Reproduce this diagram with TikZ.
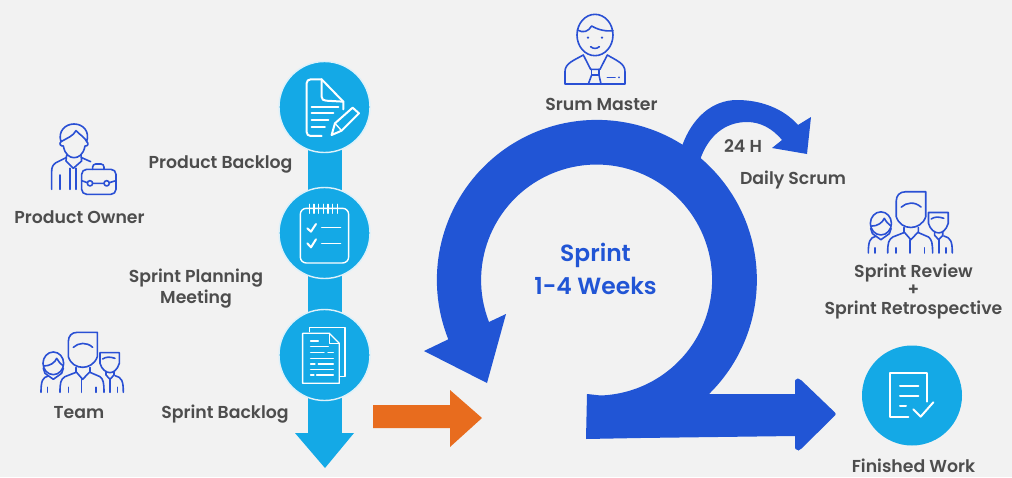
\documentclass[tikz,border=0pt]{standalone}
\usepackage{fontspec}
\setmainfont{Poppins}[UprightFont=* SemiBold,BoldFont=* SemiBold]
\usetikzlibrary{calc}
\definecolor{bgc}{HTML}{F2F2F2}
\definecolor{sblue}{HTML}{2155D5}
\definecolor{cyanb}{HTML}{14A9E6}
\definecolor{ringc}{HTML}{DDF1FA}
\definecolor{orangeb}{HTML}{E86C1E}
\definecolor{txt}{HTML}{4D4D4D}
\definecolor{iconb}{HTML}{2A50D4}
\tikzset{
  lbl/.style={text=txt,font=\fontsize{17.3}{21}\selectfont,inner sep=0pt,anchor=base,align=center},
  lblc/.style={text=txt,font=\fontsize{17.3}{21}\selectfont,inner sep=0pt,anchor=center,align=center},
  sprinttxt/.style={text=sblue,font=\fontsize{23.4}{33}\selectfont,inner sep=0pt,anchor=center,align=center},
  disc/.style={circle,fill=cyanb,draw=ringc,line width=1.4pt,inner sep=0pt,minimum size=#1},
  shaft/.style={draw=cyanb,line width=34pt},
  ico/.style={draw=iconb,line width=1.6pt,line cap=round,line join=round,fill=none},
  wht/.style={draw=white,line width=2pt,line cap=round,line join=round,fill=none},
  whtt/.style={draw=white,line width=1.3pt,line cap=round,line join=round,fill=none},
  teamicon/.pic={
    \draw[ico] (205,-290) -- (205,-245) .. controls (205,-228) and (215,-217) .. (232,-217) -- (292,-217) -- (292,-290) .. controls (285,-312) and (265,-322) .. (248,-322) .. controls (230,-322) and (212,-312) .. (205,-290) -- cycle;
    \draw[ico] (220,-262) .. controls (235,-248) and (260,-245) .. (278,-262);
    \draw[ico] (228,-322) -- (228,-335) -- (248,-358) -- (270,-335) -- (270,-322);
    \draw[ico] (228,-337) -- (195,-350) .. controls (182,-358) and (180,-368) .. (180,-397);
    \draw[ico] (270,-337) -- (300,-350) .. controls (310,-358) and (312,-368) .. (312,-397);
    \draw[ico] (245,-358) -- (245,-397);
    \draw[ico] (205,-382) -- (205,-397);
    \draw[ico] (288,-382) -- (288,-397);
    \draw[ico] (160,-310) ellipse [x radius=31,y radius=34];
    \draw[ico] (132,-318) .. controls (150,-318) and (165,-308) .. (170,-295) .. controls (175,-305) and (182,-312) .. (190,-318);
    \draw[ico] (130,-325) -- (135,-340) -- (160,-358) -- (185,-340) -- (190,-325);
    \draw[ico] (145,-348) .. controls (128,-352) and (123,-362) .. (123,-397);
    \draw[ico] (142,-382) -- (142,-397);
    \draw[ico] (300,-278) -- (358,-278) -- (358,-310) .. controls (352,-330) and (340,-338) .. (330,-338) .. controls (318,-338) and (305,-328) .. (300,-310) -- cycle;
    \draw[ico] (308,-297) .. controls (318,-290) and (330,-290) .. (345,-295);
    \draw[ico] (318,-335) -- (318,-345) -- (330,-358) -- (342,-345) -- (342,-335);
    \draw[ico] (345,-347) .. controls (365,-352) and (370,-362) .. (370,-397);
    \draw[ico] (330,-358) -- (330,-397);
    \draw[ico] (352,-382) -- (352,-397);
  },
}
\begin{document}
\begin{tikzpicture}[x=1pt,y=1pt]
\useasboundingbox (0,0) rectangle (1012,-477);
\fill[bgc] (0,0) rectangle (1012,-477);

% Big sprint loop
\fill[sblue] (709,-394) arc[start angle=-45.5,end angle=201.8,radius=160] -- (424,-351) -- (487,-383) -- (506,-314) -- (489,-322) arc[start angle=201.3,end angle=-88,radius=115.5] -- (587,-394) -- (586,-439) -- (640,-438) -- (795,-436) -- (795,-448) [rounded corners=2pt] -- (797,-451) -- (800,-450) -- (836.5,-414) -- (800,-379) -- (796,-378) [sharp corners] -- (795,-381) -- (795,-394) -- cycle;
% Daily loop
\fill[sblue] (682,-146) .. controls (692,-118) and (712,-100) .. (737,-100) .. controls (760,-100) and (783,-108) .. (798,-125) -- (811,-117) -- (807,-154) -- (772,-148) -- (782,-140) .. controls (772,-128) and (760,-122) .. (747,-122) .. controls (725,-122) and (708,-136) .. (700,-160) -- cycle;
% Orange arrow
\fill[orangeb] (373,-405) -- (450,-405) -- (450,-390) -- (482,-418) -- (450,-447) -- (450,-428) -- (373,-428) -- cycle;

% Left stack
\coordinate (c1c) at (324.5,-107);
\coordinate (c2c) at (324.5,-233);
\coordinate (c3c) at (324.5,-355);
\coordinate (shaftend) at (324.5,-434);
\draw[shaft] (c1c) -- (c2c);
\draw[shaft] (c2c) -- (c3c);
\draw[shaft] (c3c) -- (shaftend);
\fill[cyanb] (295,-433) -- (354,-433) -- (325,-468) -- cycle;
\node[disc=91pt] (c1) at (c1c) {};
\node[disc=91pt] (c2) at (c2c) {};
\node[disc=91pt] (c3) at (c3c) {};
\node[disc=100pt,draw=none] (c4) at (912,-395.5) {};

% Icon 1: document + pencil
\begin{scope}[x=0.3333pt,y=0.3333pt,yshift=-60pt]
\draw[wht] (965,-228) -- (932,-228) .. controls (925,-228) and (920,-223) .. (920,-216) -- (920,-70) .. controls (920,-63) and (925,-58) .. (932,-58) -- (965,-58) -- (1030,-125) -- (1030,-148);
\draw[wht] (965,-58) -- (965,-110) .. controls (965,-118) and (970,-122) .. (978,-122) -- (1030,-125);
\draw[wht] (935,-140) -- (1015,-140);
\draw[wht] (935,-160) -- (1000,-160);
\draw[wht] (935,-180) -- (985,-180);
\draw[wht] (935,-202) -- (975,-202);
\draw[wht] (995,-225) -- (1005,-190) -- (1058,-143) -- (1077,-160) -- (1025,-212) -- cycle;
\draw[whtt] (1005,-190) -- (1025,-212);
\end{scope}

% Icon 2: notepad
\begin{scope}[x=0.3333pt,y=0.3333pt,yshift=-60pt]
\draw[wht,line width=1.4pt,rounded corners=6pt] (901,-445) rectangle (1046,-609);
\foreach \tx in {928,942,956,970,984,998,1012}{\draw[whtt] (\tx,-433) -- (\tx,-460);}
\draw[wht] (922,-505) -- (933,-515) -- (948,-492);
\draw[wht] (922,-550) -- (933,-562) -- (948,-538);
\draw[whtt] (965,-502) -- (1022,-502);
\draw[whtt] (965,-550) -- (1022,-550);
\end{scope}

% Icon 3: documents
\begin{scope}[x=0.3333pt,y=0.3333pt,yshift=-260pt]
\draw[whtt] (928,-215) -- (928,-203) -- (1035,-203) -- (1035,-350) -- (1020,-350);
\draw[whtt] (908,-220) -- (988,-220) -- (1018,-250) -- (1018,-370) -- (908,-370) -- cycle;
\draw[whtt] (988,-220) -- (988,-250) -- (1018,-250);
\draw[whtt] (932,-243) -- (955,-243);
\draw[whtt] (932,-260) -- (985,-260);
\draw[whtt] (932,-277) -- (972,-277) (984,-277) -- (1000,-277);
\draw[whtt] (932,-295) -- (1000,-295);
\draw[whtt] (932,-312) -- (945,-312) (955,-312) -- (1000,-312);
\draw[whtt] (932,-328) -- (1000,-328);
\draw[whtt] (932,-345) -- (942,-345) (950,-345) -- (1000,-345);
\end{scope}

% Finished work icon
\begin{scope}[x=0.3333pt,y=0.3333pt,xshift=800pt,yshift=-170pt]
\draw[wht] (325,-742) -- (270,-742) -- (270,-608) -- (382,-608) -- (382,-695);
\draw[wht] (300,-647) -- (355,-647);
\draw[wht] (300,-677) -- (355,-677);
\draw[wht] (300,-707) -- (318,-707);
\draw[wht] (340,-718) -- (362,-740) -- (400,-697);
\end{scope}

% Product owner icon
\begin{scope}[x=0.3333pt,y=0.3333pt,yshift=-60pt]
\draw[ico] (183,-245) .. controls (173,-215) and (195,-192) .. (222,-192) .. controls (250,-192) and (270,-215) .. (260,-245) .. controls (255,-232) and (240,-225) .. (228,-212) .. controls (220,-228) and (200,-235) .. (183,-245);
\draw[ico] (183,-245) .. controls (176,-250) and (182,-260) .. (190,-258) .. controls (195,-285) and (210,-293) .. (222,-293) .. controls (235,-293) and (250,-285) .. (255,-258) .. controls (263,-260) and (268,-250) .. (260,-245);
\draw[ico] (200,-285) -- (198,-303) -- (220,-325) -- (245,-303) -- (243,-285);
\draw[ico] (198,-293) -- (168,-308) .. controls (158,-315) and (155,-322) .. (155,-335) -- (155,-388);
\draw[ico] (245,-293) -- (272,-305);
\draw[ico] (180,-345) -- (180,-388);
\draw[ico] (210,-325) -- (210,-388);
\draw[ico] (228,-325) -- (228,-388);
\draw[ico,rounded corners=5pt] (245,-328) rectangle (348,-403);
\draw[ico,rounded corners=3pt] (278,-328) -- (278,-312) -- (312,-312) -- (312,-328);
\draw[ico] (245,-362) -- (262,-368) (278,-370) -- (312,-370) (328,-368) -- (348,-362);
\draw[ico] (270,-370) circle [radius=8];
\draw[ico] (320,-370) circle [radius=8];
\end{scope}

% Scrum master icon
\begin{scope}[x=0.3333pt,y=0.3333pt,xshift=520pt]
\draw[ico] (225,-105) ellipse [x radius=54,y radius=62];
\draw[ico] (172,-90) .. controls (190,-100) and (205,-95) .. (215,-78) .. controls (235,-90) and (260,-95) .. (279,-92);
\fill[iconb] (204,-113) circle [radius=4] (246,-113) circle [radius=4];
\draw[ico] (212,-140) .. controls (220,-147) and (230,-147) .. (238,-140);
\draw[ico] (135,-252) -- (135,-215) .. controls (135,-190) and (160,-182) .. (190,-165) -- (212,-208) -- (240,-208) -- (262,-165) .. controls (290,-182) and (315,-190) .. (315,-215) -- (315,-252) -- cycle;
\draw[ico] (205,-252) -- (215,-225) -- (237,-225) -- (243,-252);
\draw[ico] (215,-208) -- (215,-225) (237,-208) -- (237,-225);
\draw[ico] (262,-232) -- (285,-232);
\fill[iconb] (297,-232) circle [radius=3];
\end{scope}

% Team icons
\pic[x=0.3333pt,y=0.3333pt] at (0pt,-260pt) {teamicon};
\pic[x=0.34pt,y=0.34pt] at (826.5pt,-118pt) {teamicon};

% Labels
\node[lbl] (powner) at (79.5,-223.5) {Product Owner};
\node[lbl] (pback) at (220.5,-168.5) {Product Backlog};
\node[lblc] (plan) at (196,-288.5) {Sprint Planning\\Meeting};
\node[lbl] (team) at (79,-418) {Team};
\node[lbl] (sback) at (225,-418) {Sprint Backlog};
\node[lbl] (master) at (601.5,-110) {Srum Master};
\node[lbl] (hours) at (743,-152) {24 H};
\node[lbl] (daily) at (793,-184) {Daily Scrum};
\node[lblc] (review) at (913.5,-291) {Sprint Review\\[-2.5pt]+\\[-2.5pt]Sprint Retrospective};
\node[lbl] (finished) at (913.5,-472.5) {Finished Work};
\node[sprinttxt] (sprint) at (595.5,-268.5) {Sprint\\1-4 Weeks};
\end{tikzpicture}
\end{document}
